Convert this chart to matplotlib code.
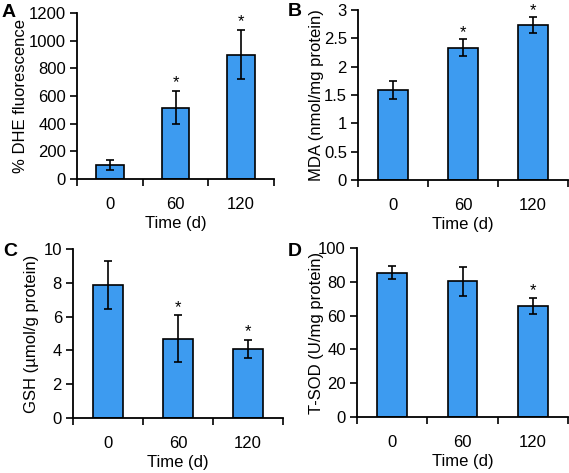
import matplotlib

matplotlib.use("Agg")

import matplotlib.pyplot as plt

plt.rcParams["font.family"] = ["Liberation Sans", "DejaVu Sans"]

times = ["0", "60", "120"]

dhe = [100, 515, 900]
dhe_err = [38, 120, 178]
mda = [1.59, 2.33, 2.73]
mda_err = [0.16, 0.15, 0.14]
gsh = [7.87, 4.70, 4.10]
gsh_err = [1.40, 1.40, 0.54]
sod = [85.5, 80.2, 65.5]
sod_err = [4.0, 8.8, 4.7]

sig = [False, True, True]
sig_sod = [False, False, True]

BLUE = "#3d9bf0"

# axes boxes (left, top, right, bottom) in pixels
W, H = 569, 473
boxes = {
    "A": (77, 13, 274, 179),
    "B": (358, 10, 568, 180),
    "C": (73, 249, 283, 418),
    "D": (357, 248, 568, 417),
}
# panel letter position (px) and y-label centre x (px)
letters = {"A": (2, 4), "B": (288, 3), "C": (3, 243), "D": (288, 243)}
ylab_x = {"A": 21, "B": 317, "C": 32, "D": 316}

panels = [
    ("A", dhe, dhe_err, sig, "% DHE fluorescence", 1200, 200, 60),
    ("B", mda, mda_err, sig, "MDA (nmol/mg protein)", 3, 0.5, 0.12),
    ("C", gsh, gsh_err, sig, "GSH (µmol/g protein)", 10, 2, 0.45),
    ("D", sod, sod_err, sig_sod, "T-SOD (U/mg protein)", 100, 20, 4.5),
]

fig = plt.figure(figsize=(W / 100, H / 100), dpi=100)

for letter, vals, errs, stars, ylabel, ymax, step, gap in panels:
    l, t, r, b = boxes[letter]
    ax = fig.add_axes([l / W, 1 - b / H, (r - l) / W, (b - t) / H])
    x = range(len(vals))
    ax.bar(x, vals, width=0.42, color=BLUE, edgecolor="black", linewidth=1.2,
           zorder=2)
    ax.errorbar(x, vals, yerr=errs, fmt="none", ecolor="black", elinewidth=1.2,
                capsize=3, capthick=1.2, zorder=3)
    for i, (v, e, s) in enumerate(zip(vals, errs, stars)):
        if s:
            ax.text(i, v + e + gap, "*", ha="center", va="center", fontsize=12,
                    clip_on=False)

    ax.set_xlim(-0.5, 2.5)
    ax.set_ylim(0, ymax)
    ax.set_xticks([-0.5, 0.5, 1.5, 2.5])
    ax.set_xticklabels([])
    ax.set_xticks(list(x), minor=True)
    ax.set_xticklabels(times, minor=True, fontsize=12)
    ax.tick_params(axis="x", which="minor", length=0, pad=13)
    ax.tick_params(axis="x", which="major", direction="out", length=5, width=1.2)
    ax.set_yticks([step * k for k in range(int(round(ymax / step)) + 1)])
    ax.yaxis.set_major_formatter(matplotlib.ticker.FuncFormatter(
        lambda v, p: f"{v:g}"))
    ax.tick_params(axis="y", direction="out", length=5, width=1.2,
                   labelsize=12, pad=3)
    for side in ("top", "right"):
        ax.spines[side].set_visible(False)
    for side in ("left", "bottom"):
        ax.spines[side].set_linewidth(1.3)
    ax.set_xlabel("Time (d)", fontsize=12, labelpad=3)
    ax.set_ylabel(ylabel, fontsize=12, va="center")
    ax.yaxis.set_label_coords((ylab_x[letter] - l) / (r - l), 0.5)
    lx, ly = letters[letter]
    fig.text(lx / W, 1 - ly / H, letter, fontsize=14, fontweight="bold",
             ha="left", va="top")

fig.savefig("out.png", dpi=100)
